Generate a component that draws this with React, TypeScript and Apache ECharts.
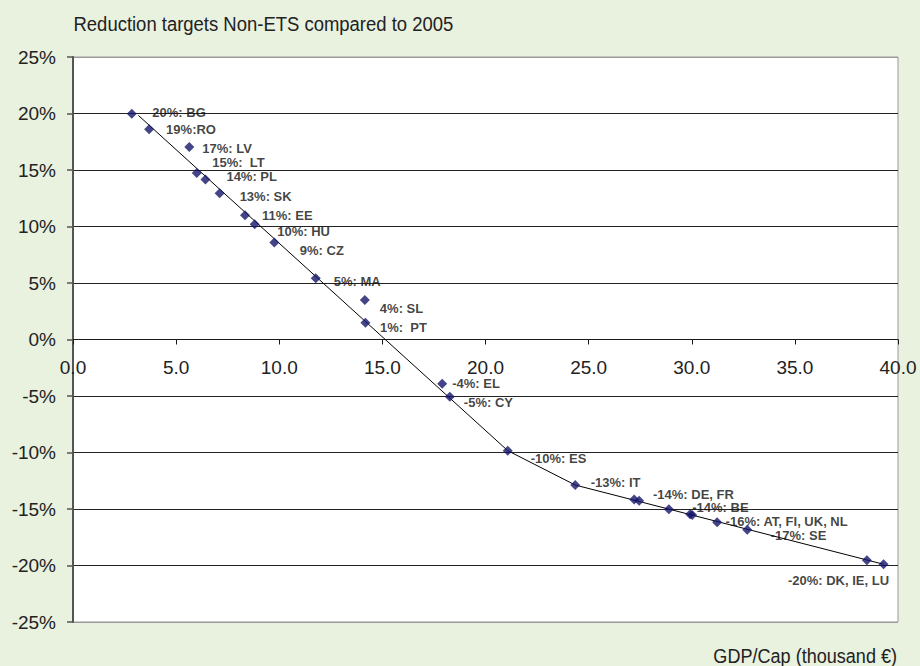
import React, { useEffect, useRef } from "react";
import * as echarts from "echarts";

// GDP per capita (thousand €) and resulting Non-ETS target (% vs 2005)
const gdpPerCap = [2.85, 3.69, 5.64, 6.0, 6.42, 7.11, 8.34, 8.81, 9.76, 11.77, 14.15, 14.18, 17.9, 18.27, 21.08, 24.35, 27.21, 27.45, 28.89, 29.92, 30.02, 31.23, 32.69, 38.49, 39.3];
const targetPct = [19.98, 18.6, 17.04, 14.74, 14.15, 12.94, 10.99, 10.19, 8.58, 5.42, 3.5, 1.49, -3.92, -5.07, -9.84, -12.88, -14.17, -14.26, -15.03, -15.47, -15.53, -16.18, -16.83, -19.54, -19.89];
const pointLabels = [
  "20%: BG", "19%:RO", "17%: LV", "15%:  LT", "14%: PL", "13%: SK", "11%: EE", "10%: HU", "9%: CZ",
  "5%: MA", "4%: SL", "1%:  PT", "-4%: EL", "-5%: CY", "-10%: ES", "-13%: IT", "-14%: BE", "-14%: DE, FR",
  "", "", "", "-16%: AT, FI, UK, NL", "-17%: SE", "", "-20%: DK, IE, LU",
];

// Linear reduction path
const pathX = [3.17, 21.08, 24.35, 39.3];
const pathY = [19.83, -9.84, -12.88, -19.89];

// Axis ticks
const yTicks = [-25, -20, -15, -10, -5, 0, 5, 10, 15, 20, 25];

// Label placement (px) relative to the right edge of each marker
const labelOffsets: [number, number][] = [
  [15.5, -1], [12, 0], [8, 2], [10.5, -10.6], [16, -2.7], [15, 3], [12, 0], [17.5, 7], [20.5, 7.7],
  [13, 3], [10, 8.5], [9.5, 4.5], [5, 0], [9, 5.4], [18, 7.7], [10.5, -3], [53, 8.3], [8.8, -6.3],
  [0, 0], [0, 0], [0, 0], [3.5, -0.8], [18.5, 5.5], [0, 0], [0.5, 16.7],
];

const FONT = "'Liberation Sans', Arial, sans-serif";
const GRID_TOP = 57;
const GRID_BOTTOM = 44;
const CHART_H = 666;

export default function App() {
  const ref = useRef<HTMLDivElement>(null);

  useEffect(() => {
    if (!ref.current) return;
    const chart = echarts.init(ref.current, undefined, { renderer: "svg" });

    const points = gdpPerCap.map((x, i) => {
      const text = pointLabels[i];
      const last = i === gdpPerCap.length - 1;
      return {
        name: text,
        value: [x, targetPct[i]],
        label: {
          show: text !== "",
          offset: labelOffsets[i],
          align: last ? "right" : "left",
        },
      };
    });

    const splitColors = yTicks.map((t) => (t === 25 || t === -25 ? "#9a9a9a" : "#222222"));
    // the x axis sits on the 0% line, halfway up the symmetric value range
    const plotH = CHART_H - GRID_TOP - GRID_BOTTOM;

    chart.setOption({
      animation: false,
      backgroundColor: "#E9F1DF",
      grid: {
        left: 73,
        right: 22,
        top: GRID_TOP,
        bottom: GRID_BOTTOM,
        show: true,
        backgroundColor: "#ffffff",
        borderColor: "#9a9a9a",
        borderWidth: 1,
      },
      xAxis: {
        type: "value",
        position: "bottom",
        offset: -plotH / 2,
        min: 0,
        max: 40,
        interval: 5,
        axisLine: { show: true, onZero: false, lineStyle: { color: "#1a1a1a", width: 1 } },
        axisTick: { show: true, length: 5, lineStyle: { color: "#1a1a1a" } },
        axisLabel: {
          formatter: (v: number) => v.toFixed(1),
          fontSize: 19,
          fontFamily: FONT,
          color: "#222",
          margin: 18,
          showMinLabel: true,
          showMaxLabel: true,
        },
        splitLine: { show: false },
      },
      yAxis: {
        type: "value",
        min: -25,
        max: 25,
        interval: 5,
        axisLine: { show: true, onZero: false, lineStyle: { color: "#555", width: 2 } },
        axisTick: { show: true, length: 6, lineStyle: { color: "#555", width: 1.5 } },
        axisLabel: {
          formatter: (v: number) => `${v}%`,
          fontSize: 19,
          fontFamily: FONT,
          color: "#222",
          margin: 17,
        },
        splitLine: { show: true, lineStyle: { color: splitColors, width: 1 } },
      },
      graphic: [
        {
          type: "text",
          x: 73.5,
          y: 24,
          scaleX: 0.88,
          style: {
            text: "Reduction targets Non-ETS compared to 2005",
            fontSize: 21,
            fontFamily: FONT,
            fill: "#222",
            align: "left",
            verticalAlign: "middle",
          },
        },
        {
          type: "text",
          x: 897,
          y: 655,
          scaleX: 0.86,
          style: {
            text: "GDP/Cap (thousand €)",
            fontSize: 21,
            fontFamily: FONT,
            fill: "#222",
            align: "right",
            verticalAlign: "middle",
          },
        },
      ],
      series: [
        {
          type: "line",
          data: pathX.map((x, i) => [x, pathY[i]]),
          showSymbol: false,
          symbol: "none",
          lineStyle: { color: "#000", width: 1 },
          z: 2,
        },
        {
          type: "scatter",
          data: points,
          symbol: "diamond",
          symbolSize: 10,
          itemStyle: { color: "#15156A" },
          z: 3,
          label: {
            show: true,
            position: "right",
            distance: 0,
            formatter: "{b}",
            fontSize: 13,
            lineHeight: 13,
            fontWeight: "bold",
            fontFamily: FONT,
            color: "#111",
          },
        },
      ],
    });

    return () => chart.dispose();
  }, []);

  return (
    <div
      ref={ref}
      style={{ position: "fixed", left: 0, top: 0, width: 920, height: 666 }}
    />
  );
}
